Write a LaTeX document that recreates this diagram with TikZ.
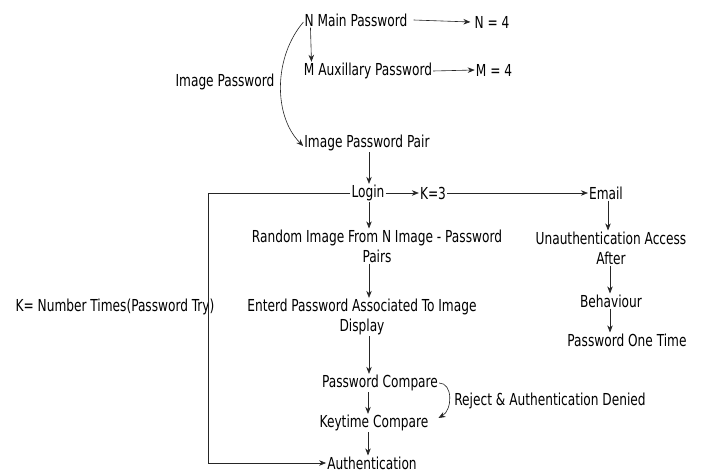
\documentclass[tikz,border=0pt]{standalone}
\usepackage{fontspec}
\setmainfont[FakeStretch=0.82]{DejaVu Sans Condensed}
\usetikzlibrary{arrows.meta}
\begin{document}
\begin{tikzpicture}[x=1pt,y=-1pt,
  lbl/.style={inner sep=1pt, font=\fontsize{16.5}{20}\selectfont, align=center},
  conn/.style={line width=0.6pt, draw=black!85, -{Stealth[length=7pt,width=5.5pt]}},
  plain/.style={line width=0.6pt, draw=black!85}]
\path[fill=white] (0,0) rectangle (702,473);
\useasboundingbox (0,0) rectangle (702,473);

\node[lbl] (nmain) at (356,20) {N Main Password};
\node[lbl] (n4) at (492,22) {N = 4};
\node[lbl] (maux) at (368,71) {M Auxillary Password};
\node[lbl] (m4) at (494,70) {M = 4};
\node[lbl] (imgpw) at (225,82) {Image Password};
\node[lbl] (pair) at (367,143) {Image Password Pair};
\node[lbl] (login) at (368,193) {Login};
\node[lbl] (k3) at (433,193) {K=3};
\node[lbl] (email) at (606,193) {Email};
\node[lbl] (random) at (377,246) {Random Image From N Image - Password\\Pairs};
\node[lbl] (enterd) at (362,317) {Enterd Password Associated To Image\\Display};
\node[lbl] (pwcmp) at (380,383) {Password Compare};
\node[lbl] (keyt) at (374,423) {Keytime Compare};
\node[lbl] (auth) at (372,463) {Authentication};
\node[lbl] (reject) at (550,401) {Reject \& Authentication Denied};
\node[lbl] (knum) at (115,307) {K= Number Times(Password Try)};
\node[lbl] (unauth) at (611,248) {Unauthentication Access\\After};
\node[lbl] (behav) at (611,301) {Behaviour};
\node[lbl] (otp) at (627,340) {Password One Time};

\coordinate (loopc) at (208,193);

\draw[conn] ([xshift=5pt]nmain.east) -- ([xshift=-3pt]n4.west);
\draw[conn] (maux.east) -- (m4.west);
\draw[conn] ([xshift=7pt]nmain.south west) -- ([xshift=8pt]nmain.south west |- maux.north);
\draw[conn] ([yshift=-2pt]nmain.west) .. controls +(-30,35) and +(-30,-30) .. ([yshift=-3pt]pair.west);
\draw[conn] ([xshift=2pt]pair.south) -- ([xshift=2pt]pair.south |- login.north);
\draw[conn] (login.east) -- (k3.west);
\draw[conn] (k3.east) -- (email.west);
\draw[conn] (login.west) -- (loopc) |- (auth.west);
\draw[conn] ([xshift=1pt]login.south) -- ([xshift=1pt]login.south |- random.north);
\draw[conn] ([xshift=1pt]login.south |- random.south) -- ([xshift=1pt]login.south |- enterd.north);
\draw[conn] ([xshift=1pt]login.south |- enterd.south) -- ([xshift=1pt]login.south |- pwcmp.north);
\draw[conn] (login.south |- pwcmp.south) -- (login.south |- keyt.north);
\draw[conn] (login.south |- keyt.south) -- (login.south |- auth.north);
\draw[conn] (pwcmp.east) .. controls +(14,0) and +(14,-8) .. ([xshift=9pt,yshift=5pt]keyt.east);
\draw[conn] ([xshift=2pt]email.south) -- ([xshift=2pt]email.south |- unauth.north);
\draw[conn] ([xshift=-1pt]unauth.south) -- ([xshift=-1pt]unauth.south |- behav.north);
\draw[conn] ([xshift=-1pt]behav.south) -- ([xshift=-1pt]behav.south |- otp.north);
\end{tikzpicture}
\end{document}
